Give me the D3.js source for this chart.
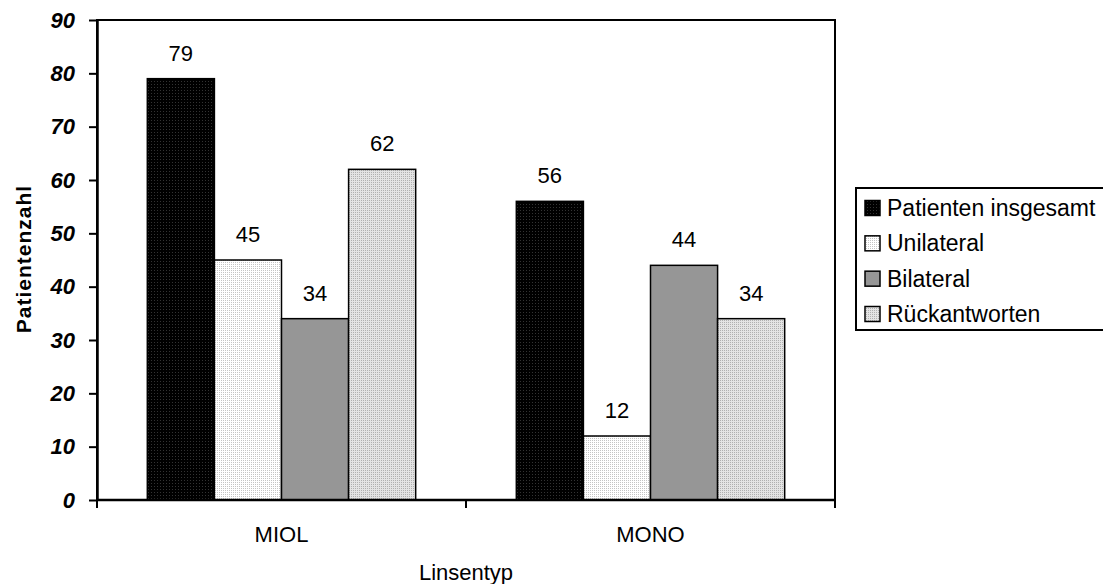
<!DOCTYPE html>
<html>
<head>
<meta charset="utf-8">
<script src="https://cdn.jsdelivr.net/npm/d3@7"></script>
<style>
  html, body { margin: 0; padding: 0; background: #fff; }
  svg { display: block; font-family: Arial, "Liberation Sans", sans-serif; }
</style>
</head>
<body>
<svg id="chart" width="1103" height="584"></svg>
<script>
// Lens types on the x axis
const categories = ["MIOL", "MONO"];
// Series shown per lens type
const seriesNames = ["Patienten insgesamt", "Unilateral", "Bilateral", "Rückantworten"];
// Patient counts per series
const miolValues = [79, 45, 34, 62];
const monoValues = [56, 12, 44, 34];
const yTicks = [0, 10, 20, 30, 40, 50, 60, 70, 80, 90];

const valuesByCategory = { MIOL: miolValues, MONO: monoValues };

const svg = d3.select("#chart");
const margin = { left: 97, top: 20, right: 835, bottom: 500 };

// Fill textures: dotted screens like the original office chart
const defs = svg.append("defs");
function dotPattern(id, base, dot, size) {
  const p = defs.append("pattern")
    .attr("id", id).attr("patternUnits", "userSpaceOnUse")
    .attr("width", size).attr("height", size);
  p.append("rect").attr("width", size).attr("height", size).attr("fill", base);
  p.append("rect").attr("width", 1).attr("height", 1).attr("fill", dot);
  return `url(#${id})`;
}
const fills = [
  dotPattern("pTotal", "#000", "#333", 3),
  dotPattern("pUni", "#fff", "#c4c4c4", 2),
  "#969696",
  dotPattern("pBack", "#e4e4e4", "#b0b0b0", 2)
];

const x0 = d3.scaleBand().domain(categories).range([margin.left, margin.right]).padding(0);
const x1 = d3.scaleBand().domain(seriesNames).range([0, x0.bandwidth()])
  .paddingInner(0).paddingOuter(0.75);
const y = d3.scaleLinear().domain([0, 90]).range([margin.bottom, margin.top]);

// Plot frame
svg.append("rect")
  .attr("x", margin.left).attr("y", margin.top)
  .attr("width", margin.right - margin.left).attr("height", margin.bottom - margin.top)
  .attr("fill", "none").attr("stroke", "#000").attr("stroke-width", 2);

// Bars
const groups = svg.append("g").selectAll("g")
  .data(categories).join("g")
  .attr("transform", d => `translate(${x0(d)},0)`);

groups.selectAll("rect")
  .data(c => valuesByCategory[c].map((v, i) => ({ name: seriesNames[i], value: v, i })))
  .join("rect")
  .attr("x", d => x1(d.name))
  .attr("y", d => y(d.value))
  .attr("width", x1.bandwidth())
  .attr("height", d => y(0) - y(d.value))
  .attr("fill", d => fills[d.i])
  .attr("stroke", "#000").attr("stroke-width", 1.5);

// Value labels above bars
groups.selectAll("text")
  .data(c => valuesByCategory[c].map((v, i) => ({ name: seriesNames[i], value: v })))
  .join("text")
  .attr("x", d => x1(d.name) + x1.bandwidth() / 2)
  .attr("y", d => y(d.value) - 18)
  .attr("text-anchor", "middle")
  .attr("font-size", 22)
  .text(d => d.value);

// Y axis
const yAxis = svg.append("g")
  .attr("transform", `translate(${margin.left},0)`)
  .call(d3.axisLeft(y).tickValues(yTicks).tickSize(8).tickSizeOuter(0).tickPadding(14));
yAxis.select(".domain").attr("stroke-width", 2.5);
yAxis.selectAll(".tick line").attr("stroke-width", 2);
yAxis.selectAll(".tick text")
  .attr("font-size", 22).attr("font-weight", "bold").attr("font-style", "italic")
  .attr("font-family", "Arial, 'Liberation Sans', sans-serif").attr("fill", "#000");

// X axis: baseline with ticks at category boundaries
const xAxis = svg.append("g");
xAxis.append("line")
  .attr("x1", margin.left).attr("x2", margin.right)
  .attr("y1", y(0)).attr("y2", y(0))
  .attr("stroke", "#000").attr("stroke-width", 2.5);
const boundaries = categories.map(c => x0(c)).concat([x0(categories[categories.length - 1]) + x0.bandwidth()]);
xAxis.selectAll("line.tick").data(boundaries).join("line")
  .attr("class", "tick")
  .attr("x1", d => d).attr("x2", d => d)
  .attr("y1", y(0)).attr("y2", y(0) + 8)
  .attr("stroke", "#000").attr("stroke-width", 2);
xAxis.selectAll("text").data(categories).join("text")
  .attr("x", d => x0(d) + x0.bandwidth() / 2)
  .attr("y", 542)
  .attr("text-anchor", "middle")
  .attr("font-size", 22)
  .text(d => d);

// Axis titles
svg.append("text")
  .attr("x", (margin.left + margin.right) / 2).attr("y", 580)
  .attr("text-anchor", "middle").attr("font-size", 22)
  .text("Linsentyp");
svg.append("text")
  .attr("transform", `translate(31,259) rotate(-90)`)
  .attr("text-anchor", "middle").attr("font-size", 21).attr("font-weight", "bold")
  .attr("letter-spacing", 1)
  .text("Patientenzahl");

// Legend
const legend = svg.append("g");
legend.append("rect")
  .attr("x", 856).attr("y", 188).attr("width", 260).attr("height", 142)
  .attr("fill", "#fff").attr("stroke", "#000").attr("stroke-width", 2);
const legendRow = d3.scalePoint().domain(seriesNames).range([216, 322]);
const items = legend.selectAll("g.item").data(seriesNames).join("g").attr("class", "item");
items.append("rect")
  .attr("x", 865).attr("y", d => legendRow(d) - 15.5)
  .attr("width", 15).attr("height", 15)
  .attr("fill", (d, i) => fills[i])
  .attr("stroke", "#000").attr("stroke-width", 1.5);
items.append("text")
  .attr("x", 887).attr("y", d => legendRow(d))
  .attr("font-size", 23)
  .text(d => d);
</script>
</body>
</html>
